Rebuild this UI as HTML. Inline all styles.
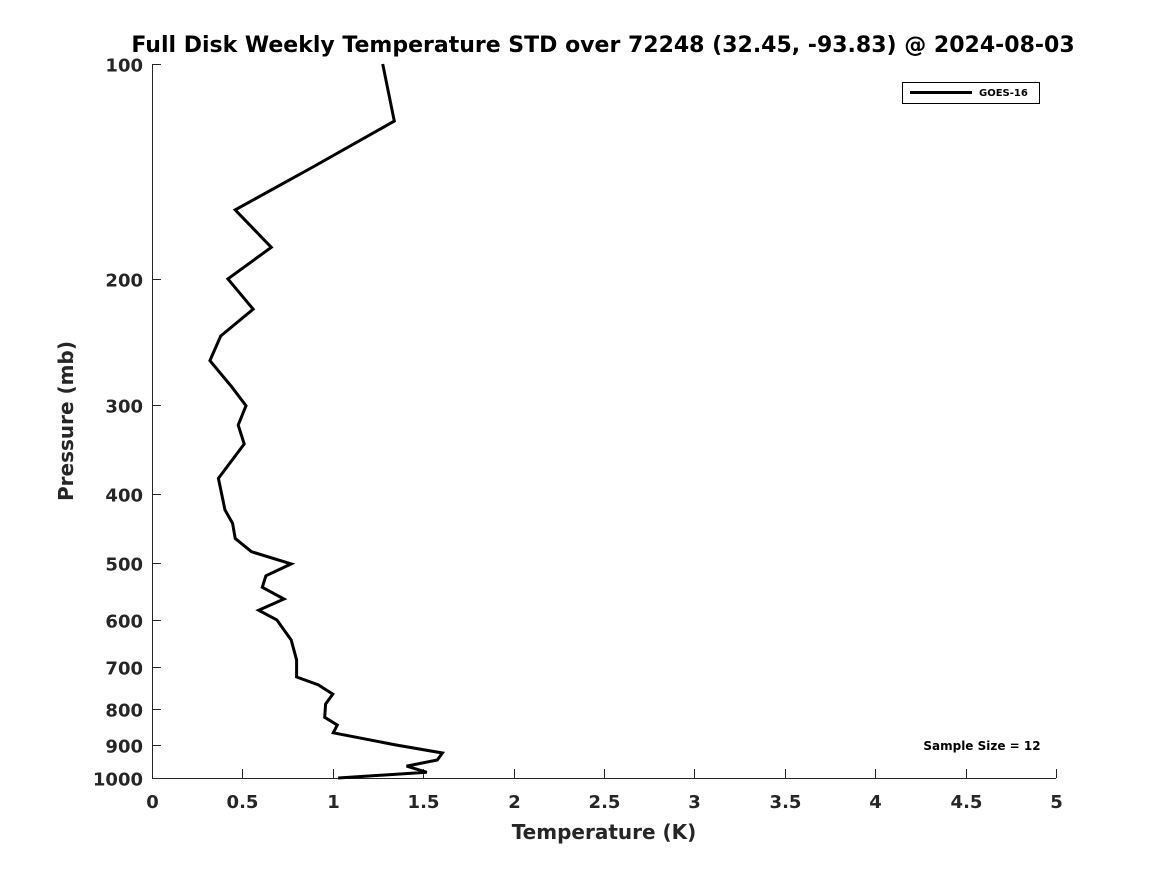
<!DOCTYPE html>
<html><head><meta charset="utf-8"><style>
body{margin:0;background:#fff;}
svg{display:block;font-family:"DejaVu Sans","Liberation Sans",sans-serif;font-weight:bold;}
</style></head><body>
<svg id="chart" width="1167" height="875" viewBox="0 0 1167 875" xmlns="http://www.w3.org/2000/svg">
<rect width="1167" height="875" fill="#fff"/>
<text x="603" y="52" text-anchor="middle" font-size="22" fill="#000">Full Disk Weekly Temperature STD over 72248 (32.45, -93.83) @ 2024-08-03</text>
<g id="axes"></g>
<g id="series"></g>
<text x="604" y="839" text-anchor="middle" font-size="20" fill="#262626">Temperature (K)</text>
<text transform="translate(73,421) rotate(-90)" text-anchor="middle" font-size="20" fill="#262626">Pressure (mb)</text>
<g>
<rect x="902.5" y="82.5" width="137" height="21" fill="#fff" stroke="#000" stroke-width="1"/>
<line x1="910" y1="92.5" x2="972" y2="92.5" stroke="#000" stroke-width="3"/>
<text x="979" y="96" font-size="10" fill="#000">GOES-16</text>
</g>
<text x="982" y="750" text-anchor="middle" font-size="12" fill="#000">Sample Size = 12</text>
</svg>
<script>
const pressures=[100,120.2,139.4,160.1,180.6,200,220.5,240.4,260.3,283.1,301,320.4,340.6,380.4,421.4,440,461.7,482,501.4,521,540.6,561.5,582.2,600.6,640.9,683.4,722,740.7,762.9,787.7,822.2,843.1,864.3,899.1,922.6,943.6,962.4,981.8,1000];
const tempStd=[1.276,1.34,0.89,0.46,0.66,0.42,0.56,0.38,0.32,0.44,0.52,0.477,0.51,0.367,0.404,0.446,0.46,0.55,0.77,0.63,0.61,0.73,0.59,0.69,0.77,0.80,0.80,0.92,1.0,0.96,0.955,1.025,1.003,1.35,1.606,1.578,1.408,1.52,1.03];
const xTicks=[0,0.5,1,1.5,2,2.5,3,3.5,4,4.5,5];
const yTicks=[100,200,300,400,500,600,700,800,900,1000];
const NS="http://www.w3.org/2000/svg";
const X0=152,X1=1056,Y0=64,Y1=778;
function xs(v){return X0+(v-0)/(5-0)*(X1-X0);}
function ys(p){return Y0+(Math.log10(p)-2)*(Y1-Y0);}
const axes=document.getElementById('axes');
function mk(tag,attrs,parent){const e=document.createElementNS(NS,tag);for(const k in attrs)e.setAttribute(k,attrs[k]);parent.appendChild(e);return e;}
const xAxis=mk('line',{x1:X0,y1:Y1+0.5,x2:X1,y2:Y1+0.5,stroke:'#262626','stroke-width':1},axes);


const yAxis=mk('line',{x1:X0+0.5,y1:Y0,x2:X0+0.5,y2:Y1,stroke:'#262626','stroke-width':1},axes);


xTicks.forEach(t=>{
  const x=Math.round(xs(t))+0.5;
  const tk=mk('line',{x1:x,y1:Y1,x2:x,y2:Y1-9,stroke:'#262626','stroke-width':1},axes);
  
  
  const lb=mk('text',{x:x,y:808,'text-anchor':'middle','font-size':18,fill:'#262626'},axes);
  lb.textContent=String(t);
  
  
});
yTicks.forEach(t=>{
  const y=Math.round(ys(t))+0.5;
  const tk=mk('line',{x1:X0,y1:y,x2:X0+9,y2:y,stroke:'#262626','stroke-width':1},axes);
  
  
  const lb=mk('text',{x:143,y:y+7,'text-anchor':'end','font-size':18,fill:'#262626'},axes);
  lb.textContent=String(t);
  
  
});
const series=document.getElementById('series');
const pts=pressures.map((p,i)=>xs(tempStd[i]).toFixed(1)+','+ys(p).toFixed(1)).join(' ');
const line=mk('polyline',{points:pts,fill:'none',stroke:'#000','stroke-width':3,'stroke-linejoin':'miter'},series);


</script>
</body></html>
